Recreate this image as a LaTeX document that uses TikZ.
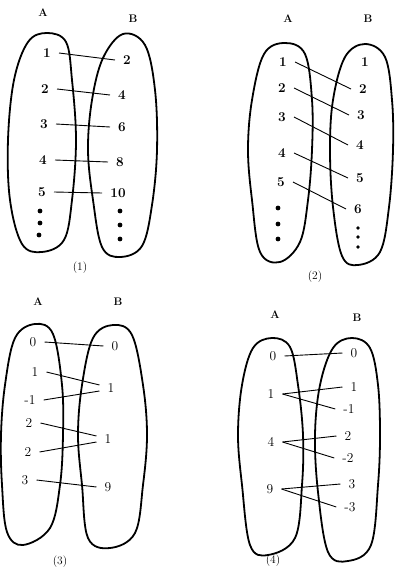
\documentclass[tikz,border=0pt]{standalone}
\usepackage{tikz}
\usetikzlibrary{positioning}
\usetikzlibrary{calc}

\tikzset{
  setline/.style={line width=1.8pt, line join=round},
  elem/.style={inner xsep=8pt, inner ysep=0pt, font=\fontsize{13.5}{16}\selectfont\bfseries},
  setname/.style={inner sep=0pt, font=\fontsize{11}{13}\selectfont\bfseries},
  caption/.style={inner sep=0pt, font=\fontsize{11.5}{13}\selectfont},
  dot/.style={circle, fill=black, inner sep=1.7pt},
  map/.style={line width=0.9pt},
}

\begin{document}
\begin{tikzpicture}[x=1pt, y=-1pt]
  \useasboundingbox (0,0) rectangle (395,567);

  % (1): n -> 2n
  \node[setname] (p1A) at (43,13) {A};
  \node[setname] (p1B) at (133,19) {B};
  \draw[setline] plot[smooth cycle, tension=0.6] coordinates {(47,33) (66,42) (72,80) (76,140) (72,200) (64,240) (42,252) (22,244) (10,200) (8,140) (14,80) (28,42)};
  \draw[setline] plot[smooth cycle, tension=0.6] coordinates {(123,34) (145,45) (155,90) (157,150) (152,205) (142,246) (120,257) (102,247) (93,200) (88,150) (92,100) (103,58)};

  \foreach \n/\x/\y in {1/47/53, 2/45/89, 3/44/124, 4/43/160, 5/42/192}
    \node[elem] (p1a\n) at (\x,\y) {\n};
  \foreach \n/\v/\x/\y in {1/2/127/60, 2/4/122/95, 3/6/122/127, 4/8/120/162, 5/10/118/193}
    \node[elem] (p1b\n) at (\x,\y) {\v};
  \foreach \i/\x/\y in {1/40/211, 2/40/223, 3/39/235}
    \node[dot] (p1ad\i) at (\x,\y) {};
  \foreach \i/\x/\y in {1/120/211, 2/120/225, 3/120/239}
    \node[dot] (p1bd\i) at (\x,\y) {};

  \foreach \n in {1,...,5}
    \draw[map] (p1a\n.east) -- (p1b\n.west);

  \node[caption] (p1cap) at (80,268) {(1)};

  % (2): n -> n+1
  \node[setname] (p2A) at (288,19) {A};
  \node[setname] (p2B) at (368,19) {B};
  \draw[setline] plot[smooth cycle, tension=0.6] coordinates {(285,43) (305,54) (312,100) (312,150) (308,200) (300,242) (280,262) (260,252) (252,200) (248,150) (252,100) (264,54)};
  \draw[setline] plot[smooth cycle, tension=0.6] coordinates {(365,44) (385,57) (392,100) (393,150) (389,207) (380,252) (358,265) (342,256) (333,207) (330,150) (333,100) (345,57)};

  \foreach \n/\x/\y in {1/283/62, 2/282/88, 3/282/117, 4/282/153, 5/281/182}
    \node[elem] (p2a\n) at (\x,\y) {\n};
  \foreach \n/\x/\y in {1/365/62, 2/363/89, 3/361/115, 4/360/145, 5/360/178, 6/358/209}
    \node[elem] (p2b\n) at (\x,\y) {\n};
  \foreach \i/\x/\y in {1/278/208, 2/278/224, 3/278/239}
    \node[dot] (p2ad\i) at (\x,\y) {};
  \foreach \i/\x/\y in {1/358/228, 2/358/237, 3/358/247}
    \node[dot, inner sep=1.4pt] (p2bd\i) at (\x,\y) {};

  \foreach \n [evaluate=\n as \m using int(\n+1)] in {1,...,5}
    \draw[map] (p2a\n.east) -- (p2b\m.west);

  \node[caption] (p2cap) at (315,277) {(2)};

  % (3)
  \node[setname] (p3A) at (38,302) {A};
  \node[setname] (p3B) at (118,302) {B};
  \draw[setline] plot[smooth cycle, tension=0.6] coordinates {(35,324) (53,334) (62,385) (63,435) (60,485) (50,528) (23,545) (7,532) (2,485) (1,435) (5,385) (15,338)};
  \draw[setline] plot[smooth cycle, tension=0.6] coordinates {(113,325) (132,335) (143,385) (147,435) (143,485) (135,533) (110,548) (88,538) (82,485) (78,435) (82,385) (93,338)};

  \foreach \n/\v/\x/\y in {1/0/33/342, 2/1/35/372, 3/-1/30/400, 4/2/29/423, 5/2/28/452, 6/3/25/480}
    \node[elem, font=\fontsize{13.5}{16}\selectfont] (p3a\n) at (\x,\y) {\v};
  \foreach \n/\v/\x/\y in {1/0/115/346, 2/1/111/388, 3/1/108/439, 4/9/108/487}
    \node[elem, font=\fontsize{13.5}{16}\selectfont] (p3b\n) at (\x,\y) {\v};

  \draw[map] (p3a1.east) -- (p3b1.west);
  \draw[map] (p3a2.east) -- ([yshift=3pt]p3b2.west);
  \draw[map] (p3a3.east) -- ([yshift=-3pt]p3b2.west);
  \draw[map] (p3a4.east) -- ([yshift=3pt]p3b3.west);
  \draw[map] (p3a5.east) -- ([yshift=-3pt]p3b3.west);
  \draw[map] (p3a6.east) -- (p3b4.west);

  \node[caption] (p3cap) at (60,562) {(3)};

  % (4)
  \node[setname] (p4A) at (275,315) {A};
  \node[setname] (p4B) at (357,318) {B};
  \draw[setline] plot[smooth cycle, tension=0.6] coordinates {(272,338) (290,347) (298,385) (303,435) (302,485) (295,538) (268,555) (250,545) (242,485) (238,435) (242,385) (253,348)};
  \draw[setline] plot[smooth cycle, tension=0.6] coordinates {(352,338) (370,348) (378,385) (380,435) (378,485) (371,545) (348,561) (328,552) (318,492) (315,435) (320,385) (333,348)};

  \foreach \n/\v/\x/\y in {1/0/273/356, 2/1/271/394, 3/4/271/442, 4/9/270/489}
    \node[elem, font=\fontsize{13.5}{16}\selectfont] (p4a\n) at (\x,\y) {\v};
  \foreach \n/\v/\x/\y in {1/0/354/353, 2/1/354/387, 3/-1/349/409, 4/2/348/436, 5/-2/348/458, 6/3/352/484, 7/-3/350/507}
    \node[elem, font=\fontsize{13.5}{16}\selectfont] (p4b\n) at (\x,\y) {\v};

  \draw[map] (p4a1.east) -- (p4b1.west);
  \foreach \n/\m in {2/2, 2/3, 3/4, 3/5, 4/6, 4/7}
    \draw[map] (p4a\n.east) -- (p4b\m.west);

  \node[caption] (p4cap) at (273,561) {(4)};
\end{tikzpicture}
\end{document}
